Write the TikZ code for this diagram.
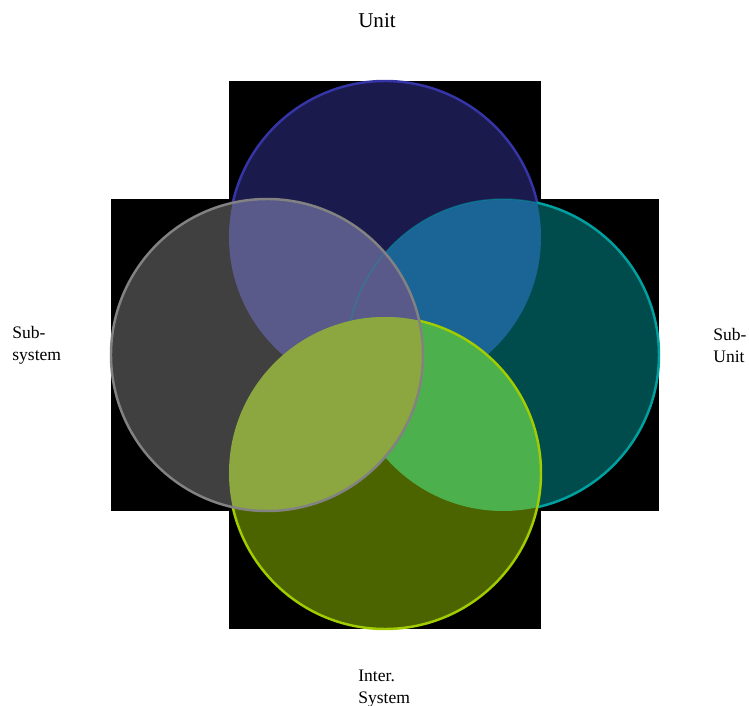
\documentclass[tikz,border=0pt]{standalone}
\usepackage{fontspec}
\setmainfont{Liberation Serif}

\definecolor{unitfill}{HTML}{1A1A4C}
\definecolor{unitline}{HTML}{3535A8}
\definecolor{sysfill}{HTML}{404040}
\definecolor{sysline}{HTML}{828282}
\definecolor{subfill}{HTML}{004C4C}
\definecolor{subline}{HTML}{00A0A0}
\definecolor{interfill}{HTML}{4C6400}
\definecolor{interline}{HTML}{A0CC00}
\definecolor{unitsys}{HTML}{5A5A8A}
\definecolor{unitsub}{HTML}{1A6496}
\definecolor{intersub}{HTML}{4CB04C}
\definecolor{intersys}{HTML}{8CA640}

\tikzstyle{setname} = [
    anchor=west,
    inner sep=0pt,
    align=left,
    font=\fontsize{10}{12.5}\selectfont
]
\tikzstyle{ring} = [line width=1.4pt]
\tikzstyle{faintring} = [line width=0.8pt, opacity=0.35]

\newcommand{\rad}{3.12}

\begin{document}
\begin{tikzpicture}

\useasboundingbox (-7.70,-7.02) rectangle (7.28,7.10);

\coordinate (T) at (0,2.36);
\coordinate (L) at (-2.36,0);
\coordinate (R) at (2.36,0);
\coordinate (B) at (0,-2.36);

% black squares behind the sets
\fill[black] (-3.12,-0.76) rectangle (3.12,5.48);
\fill[black] (-5.48,-3.12) rectangle (0.76,3.12);
\fill[black] (-0.76,-3.12) rectangle (5.48,3.12);
\fill[black] (-3.12,-5.48) rectangle (3.12,0.76);

% the four sets
\fill[unitfill] (T) circle (\rad);
\fill[subfill] (R) circle (\rad);
\fill[interfill] (B) circle (\rad);
\fill[sysfill] (L) circle (\rad);

% overlaps
\begin{scope}
\clip (T) circle (\rad);
\fill[unitsub] (R) circle (\rad);
\end{scope}
\begin{scope}
\clip (T) circle (\rad);
\fill[unitsys] (L) circle (\rad);
\end{scope}
\begin{scope}
\clip (B) circle (\rad);
\fill[intersub] (R) circle (\rad);
\end{scope}
\begin{scope}
\clip (B) circle (\rad);
\fill[intersys] (L) circle (\rad);
\end{scope}

% outlines
\begin{scope}[even odd rule]
\clip (-8,-8) -- (-8,8) -- (8,8) -- (8,-8) -- cycle (L) circle (\rad);
\clip (-8,-8) -- (-8,8) -- (8,8) -- (8,-8) -- cycle (R) circle (\rad);
\draw[ring, unitline] (T) circle (\rad);
\end{scope}

\begin{scope}[even odd rule]
\clip (-8,-8) -- (-8,8) -- (8,8) -- (8,-8) -- cycle (B) circle (\rad);
\draw[faintring, subline] (R) circle (\rad);
\clip (-8,-8) -- (-8,8) -- (8,8) -- (8,-8) -- cycle (T) circle (\rad);
\clip (-8,-8) -- (-8,8) -- (8,8) -- (8,-8) -- cycle (L) circle (\rad);
\draw[ring, subline] (R) circle (\rad);
\end{scope}

\begin{scope}[even odd rule]
\clip (-8,-8) -- (-8,8) -- (8,8) -- (8,-8) -- cycle (L) circle (\rad);
\draw[ring, interline] (B) circle (\rad);
\end{scope}

\draw[ring, sysline] (L) circle (\rad);

% names of the sets
\node (unit) [font=\fontsize{12}{14}\selectfont] at (-0.16,6.68) {Unit};
\node (subsystem) [setname] at (-7.46,0.19) {Sub-\\system};
\node (subunit) [setname] at (6.56,0.19) {Sub-\\Unit};
\node (intersystem) [setname] at (-0.54,-6.68) {Inter.\\System};

\end{tikzpicture}
\end{document}
